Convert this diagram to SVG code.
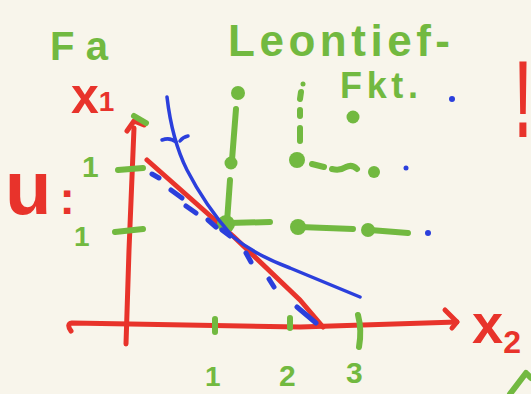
<svg xmlns="http://www.w3.org/2000/svg" width="531" height="394" viewBox="0 0 531 394">
<style>
.r{stroke:#e8332b;fill:none;stroke-width:5;stroke-linecap:round;stroke-linejoin:round}
.g{stroke:#72b940;fill:none;stroke-width:6;stroke-linecap:round;stroke-linejoin:round}
.b{stroke:#2b3fdc;fill:none;stroke-width:3.5;stroke-linecap:round;stroke-linejoin:round}
.bd{stroke:#2b3fdc;fill:none;stroke-width:5;stroke-linecap:round}
.gd{fill:#72b940}
.bdot{fill:#2b3fdc}
.tg{fill:#72b940;font-family:"Liberation Sans",Arial,sans-serif;font-weight:bold}
.tr{fill:#e8332b;font-family:"Liberation Sans",Arial,sans-serif;font-weight:bold}
</style>
<rect width="531" height="394" fill="#f8f5eb"/>

<g id="titles">
<text class="tg" x="50" y="60" font-size="40" textLength="58" lengthAdjust="spacing">Fa</text>
<text class="tg" x="228" y="56" font-size="44" textLength="222" lengthAdjust="spacing">Leontief-</text>
<text class="tg" x="340" y="98" font-size="36" textLength="78" lengthAdjust="spacing">Fkt.</text>
</g>

<g id="axes">
<path class="r" d="M126,344 L129,250 L134,128"/>
<path class="r" d="M127,131 L134,121 L144,125"/>
<path class="r" d="M71,331 Q66,324 72,323 L130,324 L300,327 L457,322"/>
<path class="r" d="M445,310 L457,322 L452,328"/>
<text class="tr" x="71" y="113" font-size="50">x<tspan font-size="28" dy="-2">1</tspan></text>
<text class="tr" x="472" y="343" font-size="56">x<tspan font-size="32" dy="10">2</tspan></text>
<text class="tr" x="5" y="214" font-size="76">u<tspan font-size="46" dx="8">:</tspan></text>
</g>

<g id="ticks">
<path class="g" d="M134,116 L146,123"/>
<path class="g" d="M118,170 L143,168"/>
<path class="g" d="M115,232 L143,229"/>
<path class="g" d="M215,319 L215,332"/>
<path class="g" d="M290,318 L290,328"/>
<path class="g" d="M358,315 Q362,330 359,347"/>
<text class="tg" x="82" y="177" font-size="30">1</text>
<text class="tg" x="74" y="246" font-size="28">1</text>
<text class="tg" x="205" y="386" font-size="28">1</text>
<text class="tg" x="279" y="386" font-size="30">2</text>
<text class="tg" x="346" y="383" font-size="30">3</text>
</g>

<g id="budget-line">
<path class="r" d="M147,160 L233,236 L300,300 L323,327"/>
</g>

<g id="leontief-isoquants">
<circle class="gd" cx="238" cy="93" r="7"/>
<path class="g" d="M236,109 L232,160"/>
<circle class="gd" cx="231" cy="163" r="6.5"/>
<path class="g" d="M230,180 L227,222"/>
<circle class="gd" cx="226" cy="224" r="9"/>
<path class="g" d="M228,223 L270,222"/>
<circle class="gd" cx="298" cy="227" r="8"/>
<path class="g" d="M300,227 L353,229"/>
<circle class="gd" cx="368" cy="230" r="7"/>
<path class="g" d="M370,230 L408,233"/>
<circle class="bdot" cx="428" cy="233" r="3"/>

<circle class="gd" cx="303" cy="84" r="2.5"/>
<path class="g" d="M301,92 L300,99"/>
<path class="g" d="M300,110 L300,116"/>
<path class="g" d="M300,128 L300,141"/>
<circle class="gd" cx="297" cy="160" r="8"/>
<path class="g" d="M312,164 L324,167"/>
<path class="g" d="M332,169 Q340,171 346,167 Q352,164 357,169"/>
<circle class="gd" cx="374" cy="172" r="6"/>
<circle class="bdot" cx="406" cy="168" r="2.5"/>

<circle class="gd" cx="353" cy="117" r="6.5"/>
<circle class="bdot" cx="452" cy="99" r="3"/>
</g>

<g id="indifference-curve">
<path class="b" d="M167,97 Q172,140 187,170 Q205,205 232,236 Q255,255 290,268 L360,297"/>
<path class="b" d="M162,140 Q170,137 176,142 M180,141 Q183,137 188,136"/>
<path class="bd" d="M152,174 L159,178 M171,190 L182,198 M186,206 L196,213 M208,220 L216,227 M222,230 L230,236 M246,253 L251,262 M269,279 L274,287 M297,307 L316,323"/>
</g>

<g id="marks">
<text class="tr" x="523" y="137" font-size="110" text-anchor="middle" font-weight="normal" transform="translate(523,0) scale(0.45,1) translate(-523,0)">!</text>
<path class="g" d="M510,394 L526,373 L531,378"/>
</g>
</svg>
